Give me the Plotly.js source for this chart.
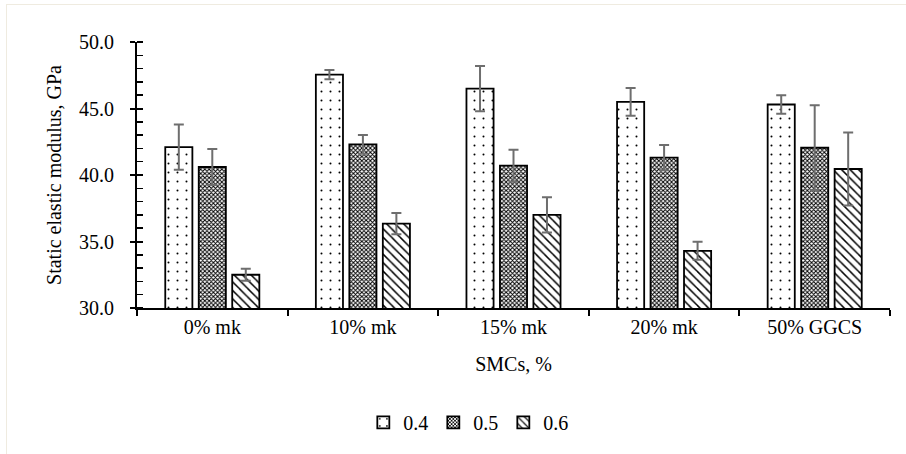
<!DOCTYPE html>
<html>
<head>
<meta charset="utf-8">
<script src="https://cdn.plot.ly/plotly-3.0.1.min.js"></script>
<style>
html,body{margin:0;padding:0;background:#fff;}
#wrap{position:relative;width:906px;height:454px;}
#frame{position:absolute;left:6px;top:4px;width:900px;height:450px;border-top:1.5px solid #efebe0;border-left:1.5px solid #efebe0;pointer-events:none;}
#chart{width:906px;height:454px;}
</style>
</head>
<body>
<div id="wrap"><div id="chart"></div><div id="frame"></div></div>
<script>
const categories = ["0% mk", "10% mk", "15% mk", "20% mk", "50% GGCS"];
const seriesNames = ["0.4", "0.5", "0.6"];
const values04 = [42.1, 47.55, 46.5, 45.5, 45.3];
const values05 = [40.6, 42.3, 40.7, 41.3, 42.05];
const values06 = [32.5, 36.35, 37.0, 34.3, 40.45];
const err04 = [1.7, 0.35, 1.7, 1.05, 0.7];
const err05 = [1.35, 0.7, 1.2, 0.95, 3.2];
const err06 = [0.45, 0.8, 1.33, 0.68, 2.75];

const FONT = "'Liberation Serif', 'Times New Roman', serif";
const FS = 20;
const patterns = [
  {shape: ".", size: 9, solidity: 0.04, fgcolor: "#000", bgcolor: "#fff", fillmode: "replace"},
  {shape: "x", size: 3, solidity: 0.55, fgcolor: "#000", bgcolor: "#fff", fillmode: "replace"},
  {shape: "\\", size: 6, solidity: 0.25, fgcolor: "#000", bgcolor: "#fff", fillmode: "replace"}
];
const vals = [values04, values05, values06];
const errs = [err04, err05, err06];

const traces = seriesNames.map((n, i) => ({
  type: "bar",
  name: n,
  x: categories,
  y: vals[i],
  marker: {color: "#fff", pattern: patterns[i], line: {color: "#000", width: 1.8}},
  error_y: {type: "data", array: errs[i], visible: true, color: "#6e6e6e", thickness: 2, width: 5}
}));

// overlay axis for inward-pointing major ticks
traces.push({type: "scatter", x: [categories[0]], y: [30], yaxis: "y2", mode: "none", showlegend: false, hoverinfo: "skip"});

const layout = {
  width: 906, height: 454,
  margin: {l: 137, r: 16, t: 42, b: 146},
  paper_bgcolor: "#fff", plot_bgcolor: "#fff",
  font: {family: FONT, size: FS, color: "#000"},
  barmode: "group",
  bargap: 0.333,
  bargroupgap: 0.19,
  showlegend: true,
  legend: {orientation: "h", x: 0.44, xanchor: "center", y: -0.43, yanchor: "middle",
           font: {family: FONT, size: FS, color: "#000"}, itemwidth: 30, tracegroupgap: 0},
  xaxis: {
    type: "category",
    showline: true, linecolor: "#000", linewidth: 2,
    ticks: "outside", ticklen: 6, tickwidth: 2, tickcolor: "#000",
    tickson: "boundaries",
    showgrid: false, zeroline: false,
    tickfont: {family: FONT, size: FS, color: "#000"},
    title: {text: "SMCs, %", font: {family: FONT, size: FS, color: "#000"}, standoff: 20}
  },
  yaxis: {
    range: [30, 50], dtick: 5, tick0: 30, tickformat: ".1f",
    showline: true, linecolor: "#000", linewidth: 2,
    ticks: "outside", ticklen: 5, tickwidth: 2, tickcolor: "#000",
    ticklabelstandoff: 12,
    minor: {dtick: 1, ticks: "inside", ticklen: 6, tickwidth: 1.5, tickcolor: "#000", showgrid: false},
    showgrid: false, zeroline: false,
    tickfont: {family: FONT, size: FS, color: "#000"},
    title: {text: "Static elastic modulus, GPa", font: {family: FONT, size: FS, color: "#000"}, standoff: 12}
  },
  yaxis2: {
    overlaying: "y", side: "left", range: [30, 50], dtick: 5, tick0: 30,
    showticklabels: false, showline: false, showgrid: false, zeroline: false,
    ticks: "inside", ticklen: 6, tickwidth: 2, tickcolor: "#000"
  }
};

Plotly.newPlot("chart", traces, layout, {displayModeBar: false, staticPlot: true});
</script>
</body>
</html>
